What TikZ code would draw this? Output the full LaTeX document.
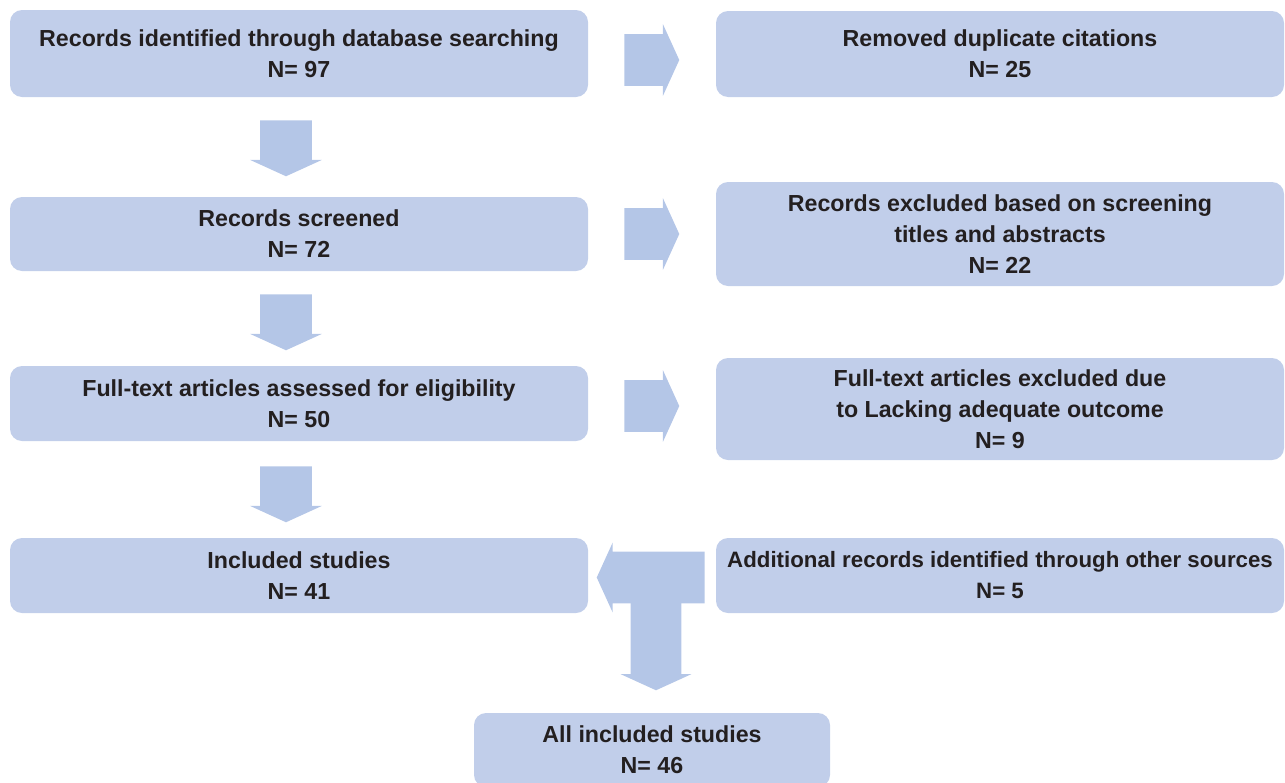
\documentclass[tikz,border=0pt]{standalone}
\usepackage{fontspec}
\setmainfont{Liberation Sans}
\usetikzlibrary{shapes.arrows}
\newcommand{\pxu}{0.75pt}
\definecolor{boxblue}{RGB}{193,206,234}
\definecolor{arrowblue}{RGB}{180,198,231}
\definecolor{inkgray}{RGB}{35,31,32}
\tikzset{
  stagebox/.style={fill=boxblue,draw=none,rounded corners=9pt,align=center,inner sep=0pt,
    text=inkgray,font=\fontsize{17.4}{23.25}\selectfont\bfseries,minimum width=578*\pxu},
  sidebox/.style={stagebox,minimum width=568*\pxu},
  fatarrow/.style={single arrow,fill=arrowblue,draw=none,inner xsep=0pt,inner ysep=25.5*\pxu,
    single arrow tip angle=131,single arrow head extend=10*\pxu},
  downarrow/.style={fatarrow,shape border rotate=270,inner ysep=0pt,inner xsep=25.5*\pxu,anchor=tail}
}
\begin{document}
\begin{tikzpicture}[x=\pxu,y=-\pxu]
				\useasboundingbox (0,0) rectangle (1285,782);
				% left column
				\node[stagebox,minimum height=87*\pxu] (search) at (299,53.5) {Records identified through database searching\\N= 97};
				\node[stagebox,minimum height=74*\pxu] (screen) at (299,234) {Records screened\\N= 72};
				\node[stagebox,minimum height=75*\pxu] (full) at (299,403.5) {Full-text articles assessed for eligibility\\N= 50};
				\node[stagebox,minimum height=75*\pxu] (incl) at (299,575.5) {Included studies\\N= 41};
				% right column
				\node[sidebox,minimum height=86*\pxu] (dupl) at (1000,54) {Removed duplicate citations\\N= 25};
				\node[sidebox,minimum height=104*\pxu] (excl) at (1000,234) {Records excluded based on screening\\titles and abstracts\\N= 22};
				\node[sidebox,minimum height=102*\pxu] (fullexcl) at (1000,409) {Full-text articles excluded due\\to Lacking adequate outcome\\N= 9};
				\node[sidebox,minimum height=75*\pxu,font=\fontsize{16.7}{23.25}\selectfont\bfseries] (other) at (1000,575.5) {Additional records identified through other sources\\N= 5};
				% bottom
				\node[stagebox,minimum width=356*\pxu,minimum height=74*\pxu] (all) at (652,750) {All included studies\\N= 46};
				% arrows down
				\node[downarrow,minimum height=56*\pxu] (d1) at (286,120) {};
				\node[downarrow,minimum height=56*\pxu] (d2) at (286,294) {};
				\node[downarrow,minimum height=56*\pxu] (d3) at (286,466) {};
				% arrows right
				\node[fatarrow,minimum height=55*\pxu,anchor=tail] (r1) at (624,60) {};
				\node[fatarrow,minimum height=55*\pxu,anchor=tail] (r2) at (624,234) {};
				\node[fatarrow,minimum height=55*\pxu,anchor=tail] (r3) at (624,406) {};
				% T arrow
				\node[fatarrow,shape border rotate=180,minimum height=108*\pxu,single arrow head extend=9*\pxu,anchor=tail] (tl) at (705,577.5) {};
				\node[downarrow,minimum height=138*\pxu,inner xsep=25*\pxu] (td) at (656,552) {};
			\end{tikzpicture}
\end{document}
